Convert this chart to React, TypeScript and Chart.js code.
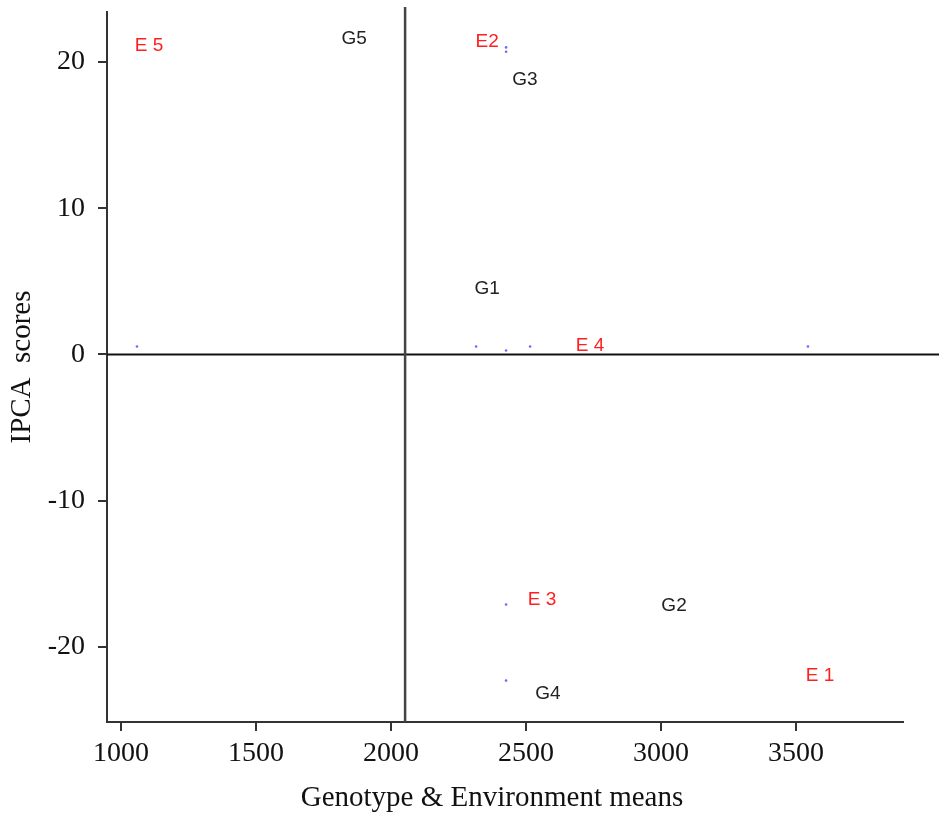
import React, { useEffect, useRef } from "react";
import { Chart, registerables } from "chart.js";

Chart.register(...registerables);

// Environment labels (red) and genotype labels (black)
const envLabels = ["E 1", "E2", "E 3", "E 4", "E 5"];
const envX = [3589, 2356, 2559, 2737, 1104];
const envY = [-22.0, 21.4, -16.8, 0.6, 21.1];

const genLabels = ["G1", "G2", "G3", "G4", "G5"];
const genX = [2356, 3048, 2496, 2581, 1863];
const genY = [4.5, -17.2, 18.8, -23.2, 21.6];

// small blue marker points
const dotX = [1059, 2315, 2426, 2515, 3544, 2426, 2426, 2426, 2426];
const dotY = [0.55, 0.55, 0.27, 0.55, 0.55, 21.0, 20.7, -17.1, -22.3];

const xTicks = [1000, 1500, 2000, 2500, 3000, 3500];
const yTicks = [-20, -10, 0, 10, 20];

const xTitle = "Genotype & Environment means";
const yTitle = "IPCA  scores";

const grandMean = 2052;
const xMin = 948;
const xMax = 3896;
const yMin = -25.13;
const yMax = 23.42;

export default function App() {
  const ref = useRef<HTMLCanvasElement | null>(null);

  useEffect(() => {
    if (!ref.current) return;

    const serif = "'Liberation Serif', 'Times New Roman', serif";

    const refLines = {
      id: "refLines",
      beforeDatasetsDraw(chart: any) {
        const { ctx, chartArea } = chart;
        const xs = chart.scales.x;
        const ys = chart.scales.y;
        ctx.save();
        const y0 = ys.getPixelForValue(0);
        ctx.strokeStyle = "#111";
        ctx.lineWidth = 2;
        ctx.beginPath();
        ctx.moveTo(chartArea.left, y0);
        ctx.lineTo(chart.width, y0);
        ctx.stroke();
        const xm = xs.getPixelForValue(grandMean);
        ctx.strokeStyle = "#444";
        ctx.lineWidth = 2.5;
        ctx.beginPath();
        ctx.moveTo(xm, 7);
        ctx.lineTo(xm, chartArea.bottom);
        ctx.stroke();
        ctx.restore();
      },
    };

    const textLabels = {
      id: "textLabels",
      afterDatasetsDraw(chart: any) {
        const { ctx } = chart;
        const xs = chart.scales.x;
        const ys = chart.scales.y;
        ctx.save();
        ctx.font = "19px 'Liberation Sans', Arial, sans-serif";
        ctx.textAlign = "center";
        ctx.textBaseline = "middle";
        ctx.fillStyle = "#ff1f1f";
        envLabels.forEach((t, i) => {
          ctx.fillText(t, xs.getPixelForValue(envX[i]), ys.getPixelForValue(envY[i]));
        });
        ctx.fillStyle = "#222";
        genLabels.forEach((t, i) => {
          ctx.fillText(t, xs.getPixelForValue(genX[i]), ys.getPixelForValue(genY[i]));
        });
        // x axis title
        ctx.font = `29px ${serif}`;
        ctx.fillStyle = "#111";
        ctx.fillText(xTitle, 492, 798);
        ctx.restore();
      },
    };

    const chart = new Chart(ref.current, {
      type: "scatter",
      data: {
        datasets: [
          {
            data: dotX.map((x, i) => ({ x, y: dotY[i] })),
            pointRadius: 1.3,
            pointBackgroundColor: "#6a6aff",
            pointBorderWidth: 0,
            pointHoverRadius: 1.3,
          },
        ],
      },
      options: {
        responsive: false,
        animation: false,
        events: [],
        layout: { padding: { left: 0, right: 36, top: 12, bottom: 0 } },
        plugins: {
          legend: { display: false },
          tooltip: { enabled: false },
        },
        scales: {
          x: {
            type: "linear",
            min: xMin,
            max: xMax,
            afterBuildTicks: (s: any) => {
              s.ticks = xTicks.map((v) => ({ value: v }));
            },
            afterFit: (s: any) => {
              s.height = 95;
              s.paddingLeft = 0;
              s.paddingRight = 0;
            },
            grid: {
              display: true,
              drawOnChartArea: false,
              drawTicks: true,
              tickLength: 9,
              color: "#333",
              lineWidth: 2,
            },
            border: { display: true, color: "#333", width: 2 },
            ticks: {
              padding: 6,
              color: "#111",
              maxRotation: 0,
              font: { family: serif, size: 28 },
              callback: (v: any) => String(v),
            },
            title: { display: false },
          },
          y: {
            type: "linear",
            min: yMin,
            max: yMax,
            afterBuildTicks: (s: any) => {
              s.ticks = yTicks.map((v) => ({ value: v }));
            },
            afterFit: (s: any) => {
              s.width = 107;
              s.paddingTop = 0;
              s.paddingBottom = 0;
            },
            grid: {
              display: true,
              drawOnChartArea: false,
              drawTicks: true,
              tickLength: 9,
              color: "#333",
              lineWidth: 2,
            },
            border: { display: true, color: "#333", width: 2 },
            ticks: {
              padding: 13,
              color: "#111",
              font: { family: serif, size: 28 },
              callback: (v: any) => String(v),
            },
            title: {
              display: true,
              text: yTitle,
              color: "#111",
              font: { family: serif, size: 29 },
              padding: { top: 5, bottom: 0 },
            },
          },
        },
      },
      plugins: [refLines, textLabels],
    });

    return () => chart.destroy();
  }, []);

  return (
    <div style={{ position: "fixed", left: 0, top: 0, width: 939, height: 817, background: "#fff" }}>
      <canvas ref={ref} width={939} height={817} style={{ display: "block" }} />
    </div>
  );
}
